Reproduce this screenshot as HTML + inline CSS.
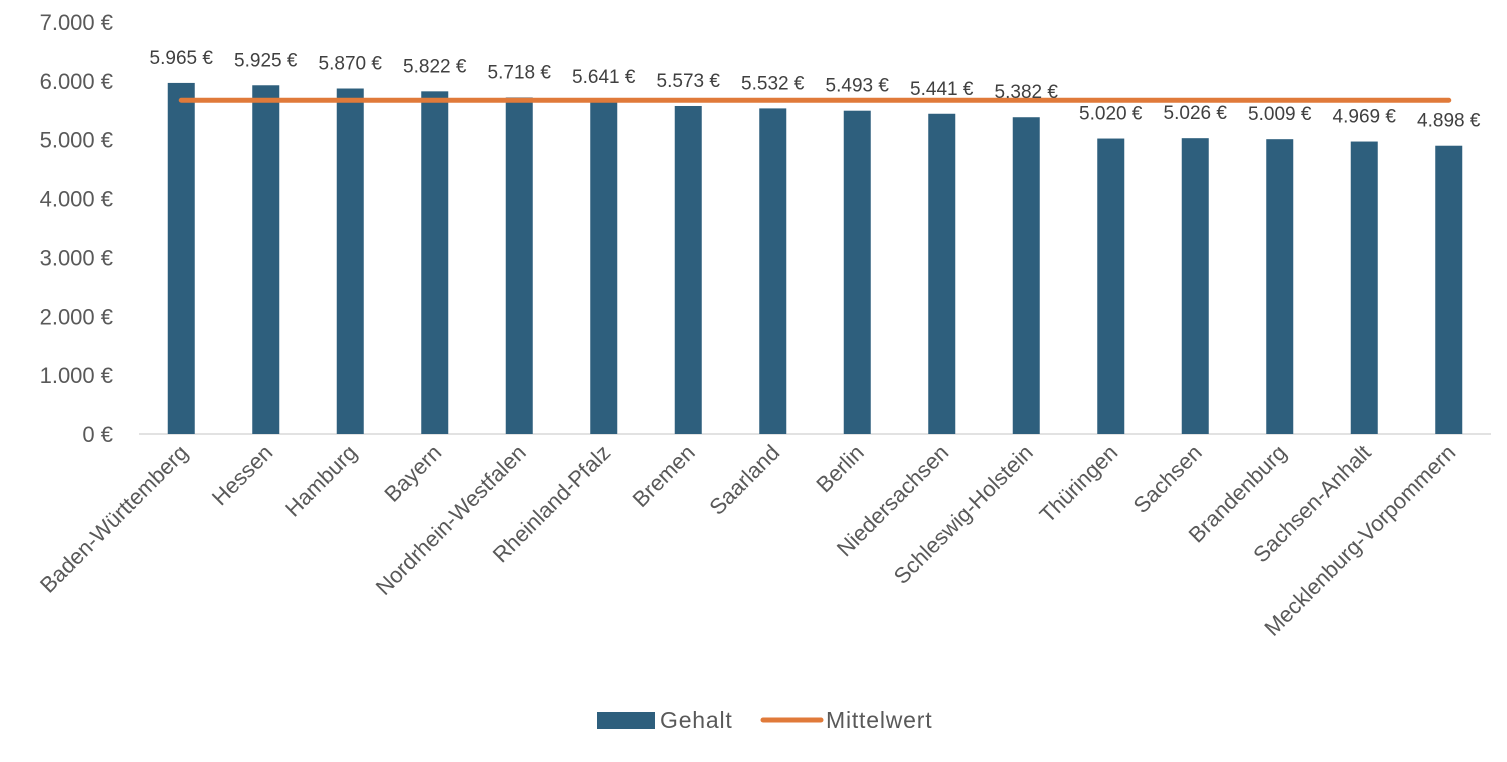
<!DOCTYPE html>
<html><head><meta charset="utf-8"><style>
html,body{margin:0;padding:0;background:#fff;}
svg{display:block;font-family:"Liberation Sans",Arial,sans-serif;}
</style></head><body>
<svg id="chart" width="1507" height="762" viewBox="0 0 1507 762" xmlns="http://www.w3.org/2000/svg"></svg>
<script>
const categories=["Baden-Württemberg","Hessen","Hamburg","Bayern","Nordrhein-Westfalen","Rheinland-Pfalz","Bremen","Saarland","Berlin","Niedersachsen","Schleswig-Holstein","Thüringen","Sachsen","Brandenburg","Sachsen-Anhalt","Mecklenburg-Vorpommern"];
const salaryValues=[5965,5925,5870,5822,5718,5641,5573,5532,5493,5441,5382,5020,5026,5009,4969,4898];
const valueLabels=["5.965 €","5.925 €","5.870 €","5.822 €","5.718 €","5.641 €","5.573 €","5.532 €","5.493 €","5.441 €","5.382 €","5.020 €","5.026 €","5.009 €","4.969 €","4.898 €"];
const meanValues=[5670,5670,5670,5670,5670,5670,5670,5670,5670,5670,5670,5670,5670,5670,5670,5670];
const yTicks=[0,1000,2000,3000,4000,5000,6000,7000];
const yTickLabels=["0 €","1.000 €","2.000 €","3.000 €","4.000 €","5.000 €","6.000 €","7.000 €"];

const NS="http://www.w3.org/2000/svg";
const svg=document.getElementById('chart');
const plotL=139,plotR=1491,y0=434,yTop=22,yMax=7000;
const band=(plotR-plotL)/categories.length;
const xC=i=>plotL+band*(i+0.5);
const yS=v=>y0-(v/yMax)*(y0-yTop);
function mk(tag,attrs,txt){const e=document.createElementNS(NS,tag);for(const k in attrs)e.setAttribute(k,attrs[k]);if(txt!==undefined)e.textContent=txt;svg.appendChild(e);return e;}

yTicks.forEach((t,i)=>{
  const e=mk('text',{x:113,y:yS(t)+8,'text-anchor':'end','font-size':22,fill:'#595959'},yTickLabels[i]);
  
  
});
const ax=mk('line',{x1:plotL,x2:plotR,y1:y0,y2:y0,stroke:'#d9d9d9','stroke-width':1.5});



const bw=27;
salaryValues.forEach((v,i)=>{
  const r=mk('rect',{x:xC(i)-bw/2,y:yS(v),width:bw,height:y0-yS(v),fill:'#2E5F7D'});
  
  
});
let d='';
meanValues.forEach((v,i)=>{d+=(i?'L':'M')+xC(i)+' '+yS(v);});
const ml=mk('path',{d:d,stroke:'#E07A3A','stroke-width':5,fill:'none','stroke-linecap':'round'});



salaryValues.forEach((v,i)=>{
  const t=mk('text',{x:xC(i),y:yS(v)-19,'text-anchor':'middle','font-size':19,fill:'#404040'},valueLabels[i]);
  
  
});
categories.forEach((c,i)=>{
  const x=xC(i)+8,y=454;
  const t=mk('text',{x:x,y:y,'text-anchor':'end','font-size':22,fill:'#595959',transform:`rotate(-45 ${x} ${y})`},c);
  
  
});
const lg=mk('rect',{x:597,y:712,width:58,height:17,fill:'#2E5F7D'});


const lgt=mk('text',{x:660,y:728,'font-size':23,fill:'#595959','letter-spacing':0.8},'Gehalt');


const lm=mk('line',{x1:763,x2:821,y1:720,y2:720,stroke:'#E07A3A','stroke-width':5,'stroke-linecap':'round'});


const lmt=mk('text',{x:826,y:728,'font-size':23,fill:'#595959','letter-spacing':0.8},'Mittelwert');


</script>
</body></html>
